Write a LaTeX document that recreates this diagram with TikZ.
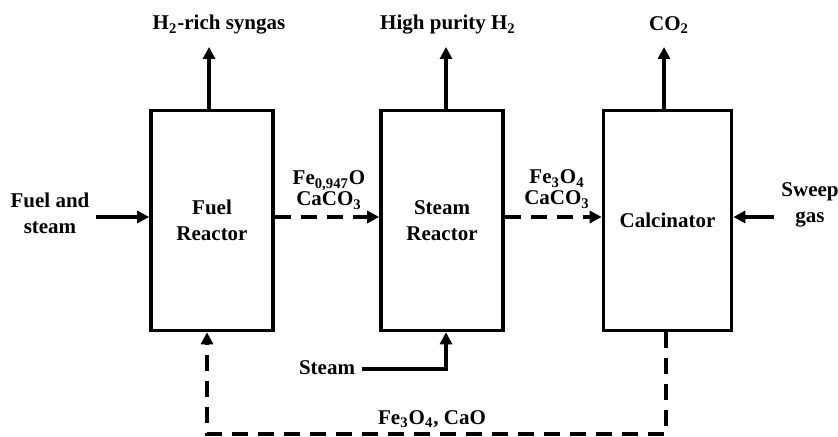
\documentclass[tikz,border=0pt]{standalone}
\usepackage{fontspec}
\setmainfont{Liberation Serif}
\usetikzlibrary{arrows.meta, positioning}

\begin{document}
\begin{tikzpicture}[x=0.5pt, y=0.5pt, >={Triangle[length=6pt, width=6pt]},
    font=\fontsize{10.5}{13}\selectfont\bfseries,
    reactor/.style={draw, line width=1.8pt, minimum width=61pt, minimum height=110pt, align=center},
    stream/.style={align=center, font=\fontsize{10.5}{10.5}\selectfont\bfseries},
    flow/.style={->, line width=1.6pt},
    solids/.style={->, line width=1.6pt, dash pattern=on 8pt off 5pt}]
    \useasboundingbox (0,0) rectangle (838,437);

    % The three reactors
    \node[reactor] (FR) at (212,216.5) {Fuel\\Reactor};
    \node[reactor] (SR) at (442,216.5) {Steam\\Reactor};
    \node[reactor, minimum width=64pt] (CA) at (667.5,216.5) {Calcinator};

    % Gas outlets at the top
    \node (SynGas) at (219,412) {H\textsubscript{2}-rich syngas};
    \node (PureH) at (448,412) {High purity H\textsubscript{2}};
    \node (COTwo) at (669,412) {CO\textsubscript{2}};
    \draw[flow] (FR.north -| 209,0) -- (209,390);
    \draw[flow] (SR.north -| 446,0) -- (446,390);
    \draw[flow] (CA.north -| 664,0) -- (664,390);

    % Feeds
    \node[align=center] (Fuel) at (50,224) {Fuel and\\steam};
    \node[align=center] (Sweep) at (810,232) {Sweep\\gas};
    \draw[flow] (Fuel.east |- 0,220) -- (FR.west |- 0,220);
    \draw[flow] (Sweep.west |- 0,220) -- (CA.east |- 0,220);

    % Solids between the reactors
    \node[stream] (FeO) at (329,247) {Fe\textsubscript{0,947}O\\CaCO\textsubscript{3}};
    \node[stream] (FeCa) at (557,248) {Fe\textsubscript{3}O\textsubscript{4}\\CaCO\textsubscript{3}};
    \draw[solids] (FR.east |- 0,220) -- (SR.west |- 0,220);
    \draw[solids] (SR.east |- 0,220) -- (CA.west |- 0,220);

    % Steam to the steam reactor
    \node (Steam) at (327,69) {Steam};
    \draw[flow] (Steam.east |- 0,68) -- (446,68) -- (SR.south -| 446,0);

    % Solids back to the fuel reactor
    \coordinate (LoopR) at (666,3);
    \coordinate (LoopL) at (207,3);
    \draw[solids] (CA.south -| LoopR) -- (LoopR) -- (LoopL) -- (FR.south -| LoopL);
    \node (Back) at (432,18) {Fe\textsubscript{3}O\textsubscript{4}, CaO};

\end{tikzpicture}
\end{document}
